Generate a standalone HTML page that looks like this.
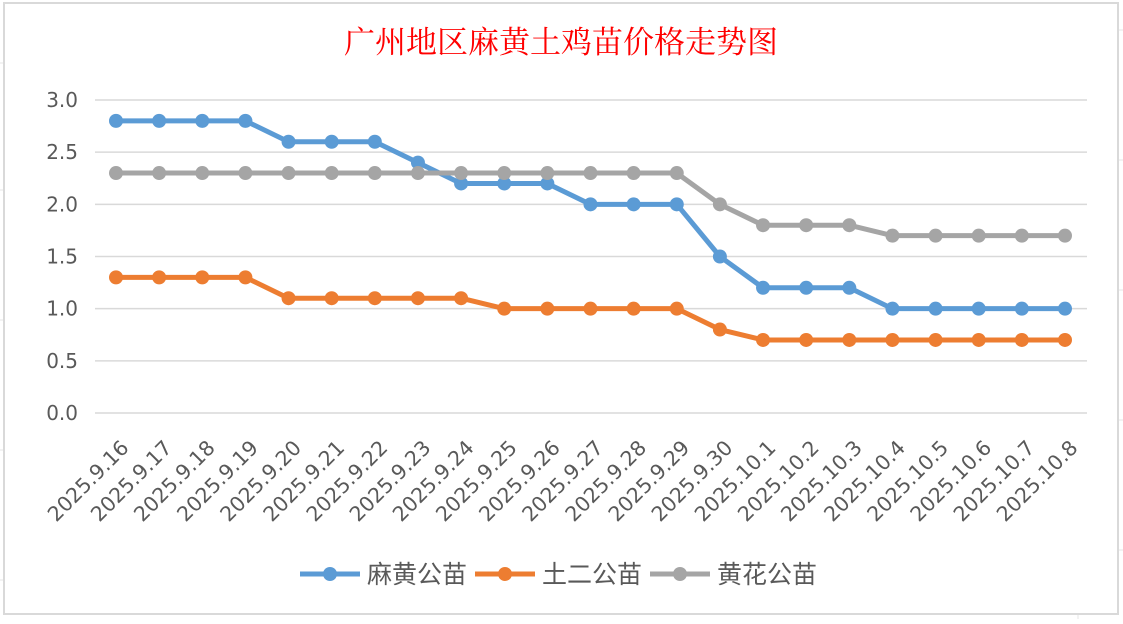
<!DOCTYPE html>
<html><head><meta charset="utf-8"><style>
body{margin:0;background:#fff;width:1123px;height:619px;overflow:hidden}
</style></head><body>
<svg id="s" width="1123" height="619" xmlns="http://www.w3.org/2000/svg" font-family="'DejaVu Sans','Noto Sans CJK SC',sans-serif">
<g stroke="#e6e6e6" stroke-width="1">
<line x1="0" y1="63" x2="4" y2="63"/><line x1="0" y1="190" x2="4" y2="190"/><line x1="0" y1="320" x2="4" y2="320"/><line x1="0" y1="450" x2="4" y2="450"/><line x1="0" y1="580" x2="4" y2="580"/>
<line x1="1119" y1="30" x2="1123" y2="30"/><line x1="1119" y1="160" x2="1123" y2="160"/><line x1="1119" y1="290" x2="1123" y2="290"/><line x1="1119" y1="420" x2="1123" y2="420"/><line x1="1119" y1="550" x2="1123" y2="550"/>
<line x1="1078" y1="615" x2="1078" y2="619"/>
</g>
<rect x="4" y="3" width="1114" height="611" fill="#fff" stroke="#d9d9d9" stroke-width="2"/>
<text x="561" y="53" text-anchor="middle" fill="#ff0000" font-size="31" font-family="'Noto Serif CJK SC','Noto Sans CJK SC',serif">广州地区麻黄土鸡苗价格走势图</text>
<g id="g"></g>
</svg>
<script>
var g=document.getElementById('g'),h='';
function Y(v){return 413-v*104.33}
for(var i=0;i<=6;i++){var v=i*0.5,y=Y(v);h+='<line x1="95" x2="1087" y1="'+y+'" y2="'+y+'" stroke="#d9d9d9" stroke-width="1.5"/>';
h+='<text x="78" y="'+(y+7)+'" text-anchor="end" font-size="20" fill="#595959">'+v.toFixed(1)+'</text>';}
var labels=['9.16','9.17','9.18','9.19','9.20','9.21','9.22','9.23','9.24','9.25','9.26','9.27','9.28','9.29','9.30','10.1','10.2','10.3','10.4','10.5','10.6','10.7','10.8'];
function X(i){return 116+i*43.136}
labels.forEach(function(l,i){var x=X(i)+14,y=449;h+='<text x="'+x+'" y="'+y+'" text-anchor="end" font-size="20.5" fill="#595959" transform="rotate(-45 '+x+' '+y+')">2025.'+l+'</text>';});
var S=[['#5b9bd5',[2.8,2.8,2.8,2.8,2.6,2.6,2.6,2.4,2.2,2.2,2.2,2.0,2.0,2.0,1.5,1.2,1.2,1.2,1.0,1.0,1.0,1.0,1.0]],
['#ed7d31',[1.3,1.3,1.3,1.3,1.1,1.1,1.1,1.1,1.1,1.0,1.0,1.0,1.0,1.0,0.8,0.7,0.7,0.7,0.7,0.7,0.7,0.7,0.7]],
['#a5a5a5',[2.3,2.3,2.3,2.3,2.3,2.3,2.3,2.3,2.3,2.3,2.3,2.3,2.3,2.3,2.0,1.8,1.8,1.8,1.7,1.7,1.7,1.7,1.7]]];
S.forEach(function(s){var p=s[1].map(function(v,i){return X(i)+','+Y(v)}).join(' ');
h+='<polyline points="'+p+'" fill="none" stroke="'+s[0]+'" stroke-width="5" stroke-linejoin="round"/>';
s[1].forEach(function(v,i){h+='<circle cx="'+X(i)+'" cy="'+Y(v)+'" r="7" fill="'+s[0]+'"/>';});});
var L=[['#5b9bd5',300,'麻黄公苗'],['#ed7d31',475,'土二公苗'],['#a5a5a5',650,'黄花公苗']];
L.forEach(function(l){h+='<line x1="'+l[1]+'" x2="'+(l[1]+60)+'" y1="574" y2="574" stroke="'+l[0]+'" stroke-width="5"/><circle cx="'+(l[1]+30)+'" cy="574" r="7" fill="'+l[0]+'"/><text x="'+(l[1]+67)+'" y="583" font-size="25" fill="#595959" font-family="\'Noto Sans CJK SC\',sans-serif">'+l[2]+'</text>';});
g.innerHTML=h;
</script>
</body></html>
